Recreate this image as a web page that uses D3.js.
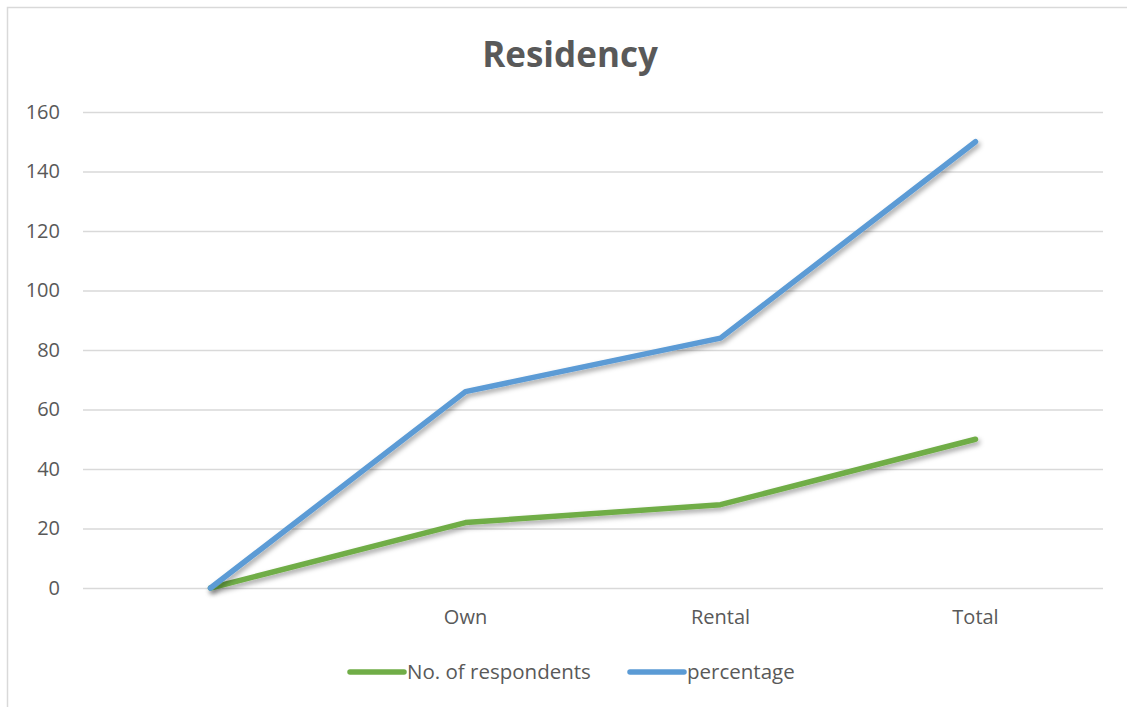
<!DOCTYPE html>
<html>
<head>
<meta charset="utf-8">
<script src="https://cdn.jsdelivr.net/npm/d3@7"></script>
<style>
  html, body { margin: 0; padding: 0; background: #fff; }
  svg { display: block; font-family: "Open Sans", sans-serif; }
</style>
</head>
<body>
<svg id="chart" width="1127" height="707"></svg>
<script>
// Residency survey figures
const categories = ["", "Own", "Rental", "Total"];
const respondents = [0, 22, 28, 50];
const percentage = [0, 66, 84, 150];
const yTicks = [0, 20, 40, 60, 80, 100, 120, 140, 160];
const seriesNames = ["No. of respondents", "percentage"];
const seriesColors = ["#70ad47", "#5b9bd5"];

const svg = d3.select("#chart");
const W = 1127, H = 707;
const plot = { left: 83, right: 1103, top: 112, bottom: 588 };
const textColor = "#595959";
const font = "'Open Sans', sans-serif";

// shadow under the lines
const defs = svg.append("defs");
const f = defs.append("filter").attr("id", "shadow")
  .attr("x", "-10%").attr("y", "-10%").attr("width", "120%").attr("height", "130%");
f.append("feDropShadow").attr("dx", 2).attr("dy", 3).attr("stdDeviation", 2.5)
  .attr("flood-color", "#000").attr("flood-opacity", 0.35);

// outer frame (runs past the right and bottom edges)
svg.append("rect").attr("x", 7.5).attr("y", 7.5).attr("width", W + 20).attr("height", H + 20)
  .attr("fill", "none").attr("stroke", "#d9d9d9").attr("stroke-width", 1.5);

const x = d3.scaleBand().domain(categories.map((c, i) => i)).range([plot.left, plot.right]);
const y = d3.scaleLinear().domain([0, 160]).range([plot.bottom, plot.top]);

// title
svg.append("text").attr("x", 570).attr("y", 67).attr("text-anchor", "middle")
  .attr("font-size", 35).attr("font-weight", "bold").attr("fill", textColor)
  .attr("font-family", font).text("Residency");

// gridlines + y labels
const yAxis = d3.axisLeft(y).tickValues(yTicks).tickSize(-(plot.right - plot.left)).tickPadding(23);
const gy = svg.append("g").attr("transform", `translate(${plot.left},0)`).call(yAxis);
gy.select(".domain").remove();
gy.selectAll(".tick line").attr("stroke", "#d9d9d9").attr("stroke-width", 1.5);
gy.selectAll(".tick text").attr("fill", textColor).attr("font-size", 20)
  .attr("font-family", font);

// category labels
const xAxis = d3.axisBottom(x).tickFormat(i => categories[i]).tickSize(0).tickPadding(22);
const gx = svg.append("g").attr("transform", `translate(0,${plot.bottom})`).call(xAxis);
gx.select(".domain").remove();
gx.selectAll(".tick text").attr("fill", textColor).attr("font-size", 20)
  .attr("font-family", font);

// series lines
const line = d3.line().x((d, i) => x(i) + x.bandwidth() / 2).y(d => y(d));
[respondents, percentage].forEach((vals, k) => {
  svg.append("path").datum(vals).attr("d", line)
    .attr("fill", "none").attr("stroke", seriesColors[k]).attr("stroke-width", 5.5)
    .attr("stroke-linecap", "round").attr("stroke-linejoin", "round")
    .attr("filter", "url(#shadow)");
});

// legend
const legendPos = [350, 630];
seriesNames.forEach((name, k) => {
  const g = svg.append("g").attr("transform", `translate(${legendPos[k]},672)`);
  g.append("line").attr("x1", 0).attr("x2", 54).attr("y1", 0).attr("y2", 0)
    .attr("stroke", seriesColors[k]).attr("stroke-width", 5.5).attr("stroke-linecap", "round");
  g.append("text").attr("x", 57).attr("y", 7).attr("font-size", 20.5)
    .attr("font-family", font).attr("fill", textColor).text(name);
});
</script>
</body>
</html>
